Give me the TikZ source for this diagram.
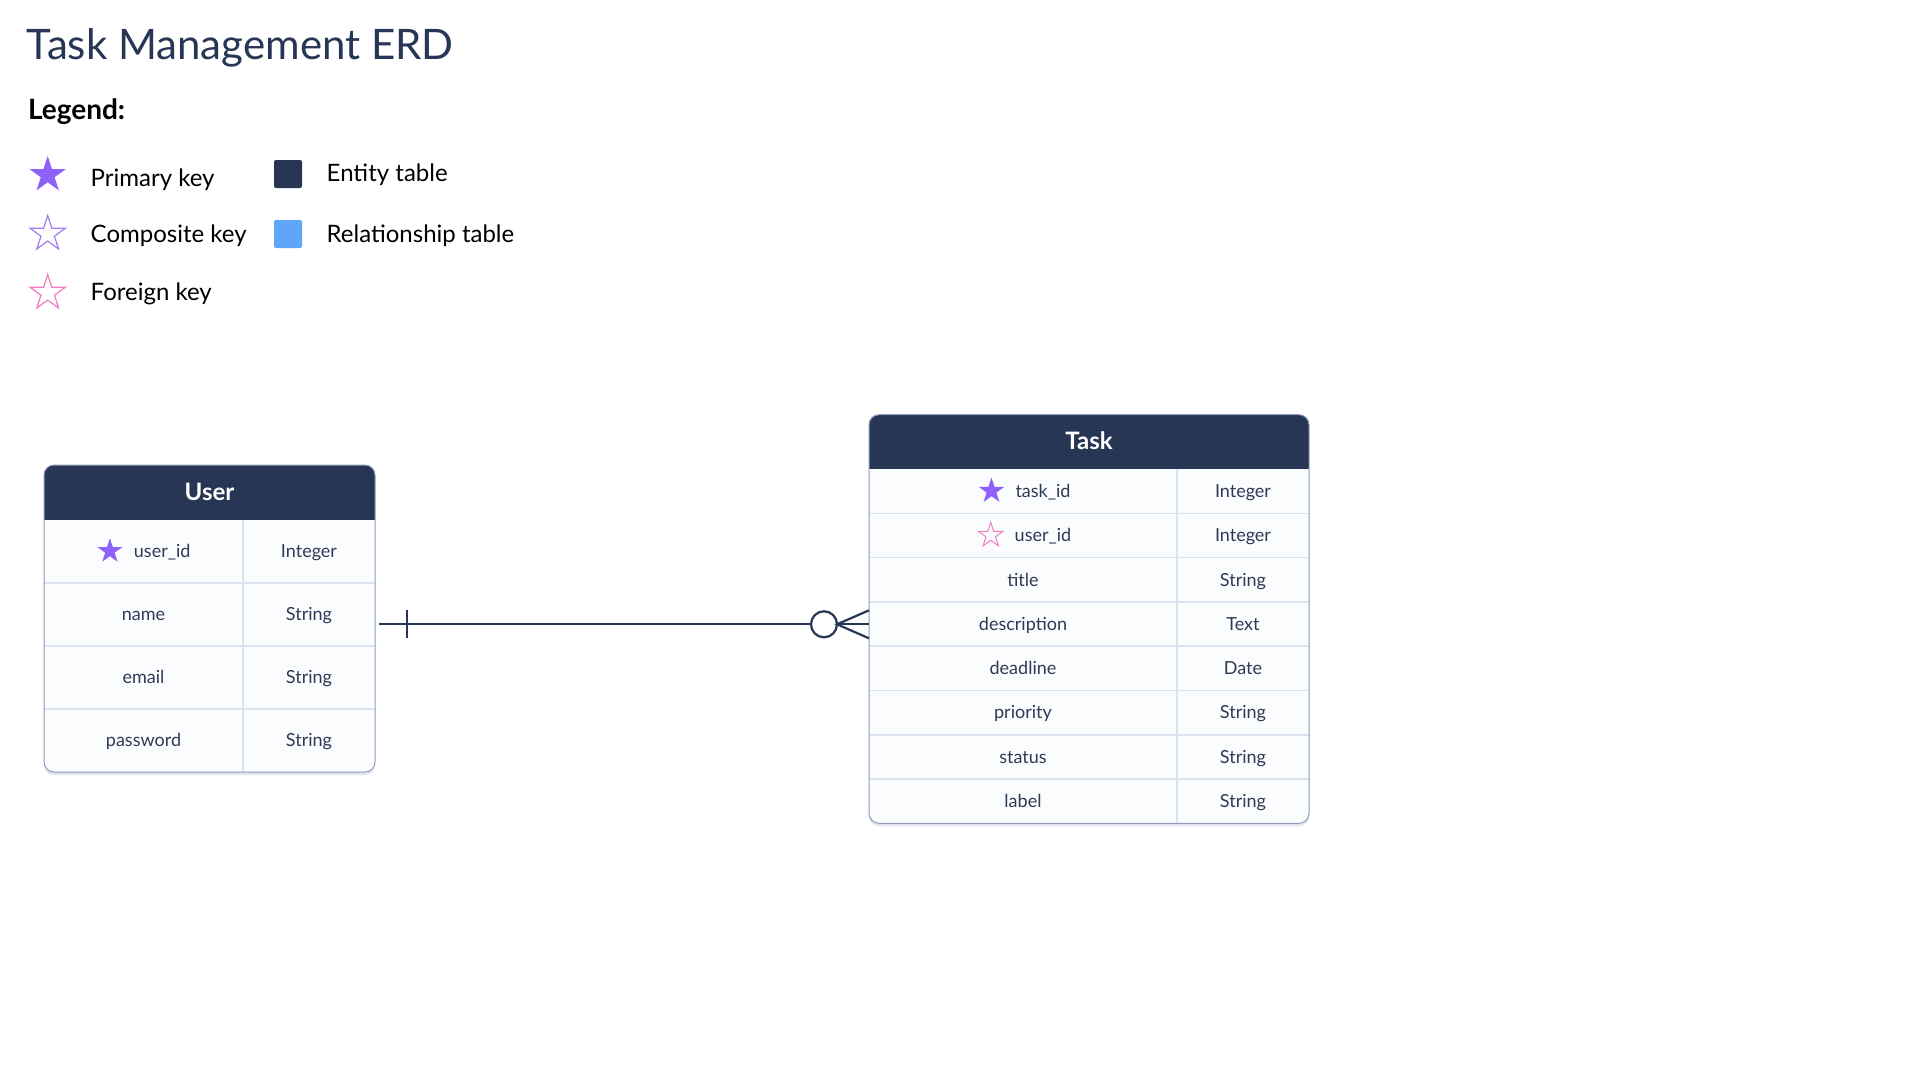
\documentclass[tikz,border=0pt]{standalone}
\usepackage{fontspec}
\setmainfont{Lato}
\usepackage{tikz}
\usetikzlibrary{calc,shapes.geometric,shadows}

\definecolor{navy}{HTML}{273654}
\definecolor{celltext}{HTML}{2E3A55}
\definecolor{rowfill}{HTML}{FBFCFE}
\definecolor{rowline}{HTML}{DCE2F0}
\definecolor{frame}{HTML}{8E9BBA}
\definecolor{pkstar}{HTML}{8E62FA}
\definecolor{ckstar}{HTML}{A07CF5}
\definecolor{fkstar}{HTML}{F27BC3}
\definecolor{reltab}{HTML}{60A5FA}

\begin{document}
\begin{tikzpicture}[x=1pt, y=-1pt,
    every node/.style={inner sep=0pt, outer sep=0pt},
    cell/.style={anchor=base, text=celltext, font=\fontsize{18}{22}\selectfont},
    hdr/.style={anchor=base, text=white, font=\bfseries\fontsize{24}{28}\selectfont},
    item/.style={anchor=base west, text=black, font=\fontsize{24}{28}\selectfont},
    tablebox/.style={rectangle, fill=rowfill, rounded corners=10pt,
        drop shadow={shadow xshift=0pt, shadow yshift=-3pt, opacity=0.25, fill=frame}},
    keystar/.style={star, star points=5, star point ratio=2.618},
    swatch/.style={rectangle, rounded corners=2pt, minimum size=28pt},
    rel/.style={draw=navy, line width=2.2pt}]

    \fill[white] (0,0) rectangle (1920,1080);
    \useasboundingbox (0,0) rectangle (1920,1080);

    \node[anchor=base west, text=navy, font=\fontsize{42}{50}\selectfont] (title) at (27,59) {Task Management ERD};
    \node[anchor=base west, font=\bfseries\fontsize{28}{32}\selectfont] (legend) at (28,119) {Legend:};

    \node[keystar, fill=pkstar, minimum size=38pt] (pk) at (47.7,175) {};
    \node[keystar, draw=ckstar, line width=1.2pt, minimum size=37pt] (ck) at (47.7,234) {};
    \node[keystar, draw=fkstar, line width=1.2pt, minimum size=37pt] (fk) at (47.7,293) {};
    \node[item] (pktext) at (90.7,186) {Primary key};
    \node[item] (cktext) at (90.7,242.3) {Composite key};
    \node[item] (fktext) at (90.7,300.7) {Foreign key};

    \node[swatch, fill=navy] (ent) at (288,174) {};
    \node[swatch, fill=reltab] (relt) at (288,234) {};
    \node[item] (enttext) at (326.7,181.7) {Entity table};
    \node[item] (relttext) at (326.7,242) {Relationship table};

    \node[tablebox, minimum width=331pt, minimum height=307pt] (userbox) at (209.5,618.5) {};
    \begin{scope}
        \clip[rounded corners=10pt] (44,465) rectangle (375,772);
        \fill[navy] (44,465) rectangle (375,520);
        \foreach \i in {1,2,3} {
            \pgfmathsetmacro{\y}{520+63*\i}
            \draw[rowline, line width=1.5pt] (44,\y) -- (375,\y);
        }
        \draw[rowline, line width=1.5pt] (243,520) -- (243,772);
    \end{scope}
    \draw[frame, line width=1pt, rounded corners=10pt] (44,465) rectangle (375,772);
    \node[hdr] (user) at (209.5,500) {User};
    \node[cell] (uf1) at (162.2,620.7-63) {user\_id};
    \node[keystar, fill=pkstar, minimum size=26pt] (upk) at ($(uf1.base west)+(-24,-6.5)$) {};
    \node[cell] (ut1) at (309,557.7) {Integer};
    \foreach \i/\f/\t in {2/name/String, 3/email/String, 4/password/String} {
        \pgfmathsetmacro{\y}{520+63*(\i-0.5)+6.2}
        \node[cell] (uf\i) at (143.5,\y) {\f};
        \node[cell] (ut\i) at (309,\y) {\t};
    }

    \node[tablebox, minimum width=440pt, minimum height=408.6pt] (taskbox) at (1089,619) {};
    \begin{scope}
        \clip[rounded corners=10pt] (869,414.7) rectangle (1309,823.3);
        \fill[navy] (869,414.7) rectangle (1309,469);
        \foreach \i in {1,...,7} {
            \pgfmathsetmacro{\y}{469+44.3*\i}
            \draw[rowline, line width=1.5pt] (869,\y) -- (1309,\y);
        }
        \draw[rowline, line width=1.5pt] (1177,469) -- (1177,823.3);
    \end{scope}
    \draw[frame, line width=1pt, rounded corners=10pt] (869,414.7) rectangle (1309,823.3);
    \node[hdr] (task) at (1089,449.3) {Task};
    \node[cell] (tf1) at (1043,497.3) {task\_id};
    \node[keystar, fill=pkstar, minimum size=27pt] (tpk) at ($(tf1.base west)+(-24,-6.3)$) {};
    \node[cell] (tt1) at (1243,497.3) {Integer};
    \node[cell] (tf2) at (1043,541.6) {user\_id};
    \node[keystar, draw=fkstar, line width=1pt, minimum size=26pt] (tfk) at ($(tf2.base west)+(-24,-6.3)$) {};
    \node[cell] (tt2) at (1243,541.6) {Integer};
    \foreach \i/\f/\t in {3/title/String, 4/description/Text, 5/deadline/Date, 6/priority/String, 7/status/String, 8/label/String} {
        \pgfmathsetmacro{\y}{469+44.3*(\i-0.5)+6.3}
        \node[cell] (tf\i) at (1023,\y) {\f};
        \node[cell] (tt\i) at (1243,\y) {\t};
    }

    \node[circle, draw=navy, line width=2.2pt, fill=white, minimum size=26pt] (zero) at (824,624.3) {};
    \coordinate (ustart) at ($(userbox.east |- zero)+(4,0)$);
    \coordinate (tend) at (taskbox.west |- zero);
    \draw[rel] (ustart) -- (zero.west);
    \draw[rel] ($(ustart)+(28,-14)$) -- ++(0,28);
    \draw[rel] (zero.east) -- (tend);
    \draw[rel] ($(tend)+(0,-14)$) -- (zero.east) -- ($(tend)+(0,14)$);

\end{tikzpicture}
\end{document}
